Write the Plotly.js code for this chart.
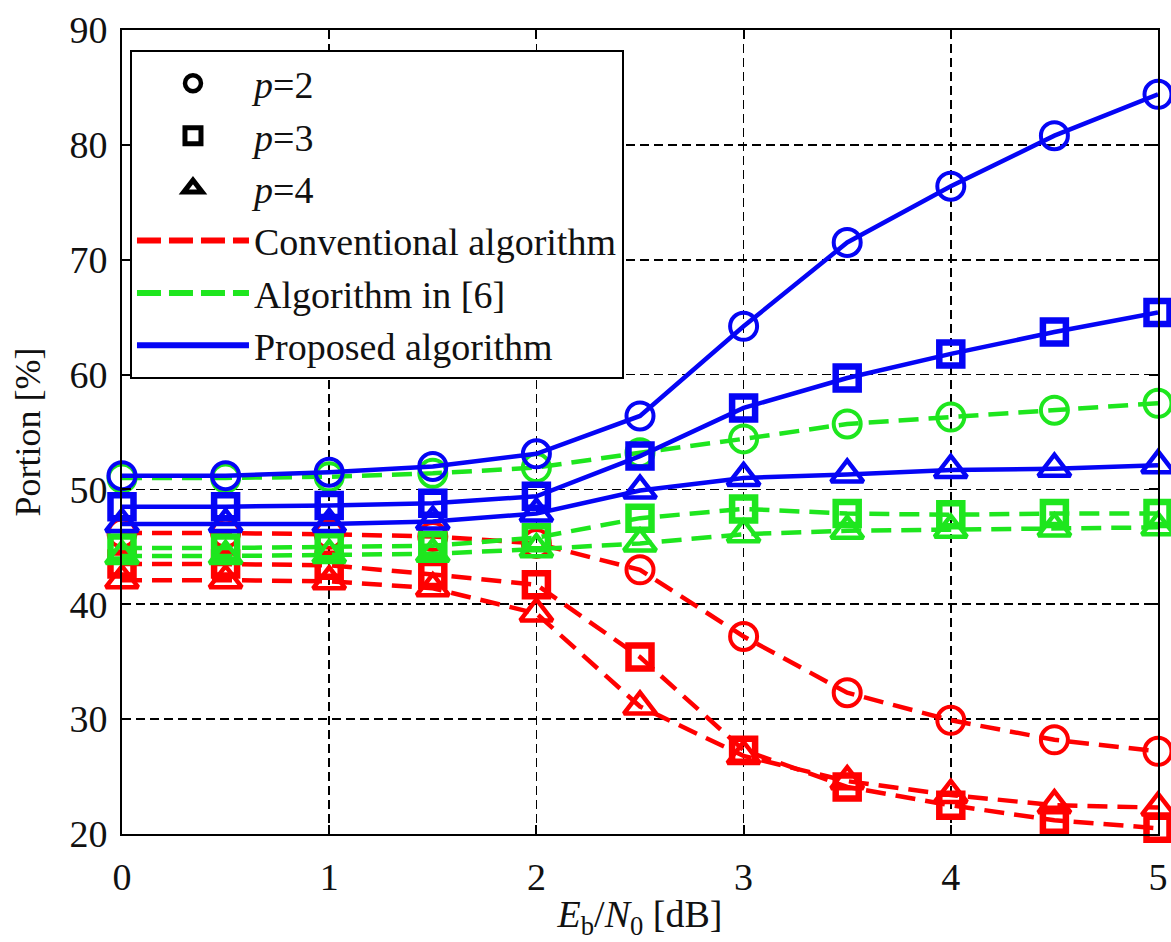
<!DOCTYPE html>
<html>
<head>
<meta charset="utf-8">
<script src="https://cdn.plot.ly/plotly-3.0.1.min.js"></script>
<style>html,body{margin:0;padding:0;background:#fff;}#chart{width:1171px;height:942px;}</style>
</head>
<body>
<div id="chart"></div>
<script>
// ---- data ----
const ebn0 = [0, 0.5, 1, 1.5, 2, 2.5, 3, 3.5, 4, 4.5, 5];

const conv_p2 = [46.2, 46.2, 46.1, 45.9, 45.3, 43.0, 37.2, 32.3, 29.9, 28.2, 27.2];
const conv_p3 = [43.5, 43.5, 43.4, 42.6, 41.7, 35.4, 27.3, 24.1, 22.5, 21.2, 20.5];
const conv_p4 = [42.1, 42.1, 42.0, 41.4, 39.2, 31.1, 26.8, 24.6, 23.4, 22.5, 22.3];

const alg6_p2 = [51.0, 51.0, 51.1, 51.4, 51.9, 53.2, 54.4, 55.7, 56.3, 56.9, 57.5];
const alg6_p3 = [44.9, 44.9, 45.0, 45.1, 45.8, 47.5, 48.3, 47.9, 47.8, 47.9, 47.9];
const alg6_p4 = [44.2, 44.2, 44.3, 44.4, 44.8, 45.3, 46.1, 46.4, 46.5, 46.6, 46.7];

const prop_p2 = [51.2, 51.2, 51.5, 52.0, 53.1, 56.4, 64.2, 71.5, 76.4, 80.8, 84.4];
const prop_p3 = [48.5, 48.5, 48.6, 48.8, 49.4, 52.9, 57.1, 59.7, 61.8, 63.7, 65.4];
const prop_p4 = [47.0, 47.0, 47.0, 47.2, 47.9, 49.9, 51.0, 51.3, 51.7, 51.8, 52.1];

const pLabels = ['<i>p</i>=2', '<i>p</i>=3', '<i>p</i>=4'];
const algLabels = ['Conventional algorithm', 'Algorithm in [6]', 'Proposed algorithm'];
const xTicks = [0, 1, 2, 3, 4, 5];
const yTicks = [20, 30, 40, 50, 60, 70, 80, 90];

// ---- styles ----
const SERIF = '"Liberation Serif", "Times New Roman", Times, serif';
const RED = '#ff0000', GREEN = '#1ee61e', BLUE = '#0505f5';
const DASH = '20px,10px';
const symbols = ['circle-open', 'square-open', 'triangle-up-open'];
const msize = [27, 23, 28];
const mline = [4, 6.5, 4.5];

function series(y, color, dash, k) {
  return {
    x: ebn0, y: y, type: 'scatter', mode: 'lines+markers',
    line: {color: color, width: 4.5, dash: dash},
    marker: {symbol: symbols[k], size: msize[k], color: color, line: {color: color, width: mline[k]}},
    showlegend: false, cliponaxis: false, hoverinfo: 'x+y'
  };
}

const traces = [
  series(conv_p2, RED, DASH, 0), series(conv_p3, RED, DASH, 1), series(conv_p4, RED, DASH, 2),
  series(alg6_p2, GREEN, DASH, 0), series(alg6_p3, GREEN, DASH, 1), series(alg6_p4, GREEN, DASH, 2),
  series(prop_p2, BLUE, 'solid', 0), series(prop_p3, BLUE, 'solid', 1), series(prop_p4, BLUE, 'solid', 2)
];

// legend-only entries
for (let k = 0; k < 3; k++) {
  traces.push({
    x: [null], y: [null], type: 'scatter', mode: 'markers', name: pLabels[k],
    marker: {symbol: symbols[k], size: msize[k] - 3, color: '#000', line: {color: '#000', width: mline[k] + 0.5}},
    showlegend: true
  });
}
[[RED, '24px,8px'], [GREEN, '24px,8px'], [BLUE, 'solid']].forEach((s, i) => {
  traces.push({
    x: [null], y: [null], type: 'scatter', mode: 'lines', name: algLabels[i],
    line: {color: s[0], width: 6, dash: s[1]}, showlegend: true
  });
});

const axisCommon = {
  showline: true, linecolor: '#000', linewidth: 2, mirror: 'ticks',
  ticks: 'inside', ticklen: 9, tickwidth: 2, tickcolor: '#000',
  showgrid: true, gridcolor: '#000', gridwidth: 1.8, griddash: '9px,5px',
  zeroline: false, tickfont: {family: SERIF, size: 38, color: '#111'}
};

const layout = {
  width: 1171, height: 942,
  margin: {l: 122, r: 13, t: 30, b: 108},
  paper_bgcolor: '#fff', plot_bgcolor: '#fff',
  font: {family: SERIF, color: '#111'},
  xaxis: Object.assign({}, axisCommon, {
    range: [0, 5], tickvals: xTicks, ticklabelstandoff: 8,
    title: {text: '<i>E</i><sub>b</sub>/<i>N</i><sub>0</sub> [dB]', font: {family: SERIF, size: 38, color: '#111'}, standoff: 4}
  }),
  yaxis: Object.assign({}, axisCommon, {
    range: [20, 90], tickvals: yTicks, ticklabelstandoff: 5,
    title: {text: 'Portion [%]', font: {family: SERIF, size: 36, color: '#111'}, standoff: 18}
  }),
  legend: {
    x: 0.0077, y: 0.975, xanchor: 'left', yanchor: 'top',
    bgcolor: '#fff', bordercolor: '#000', borderwidth: 2,
    font: {family: SERIF, size: 38, color: '#111'},
    itemwidth: 112, tracegroupgap: 0, traceorder: 'normal'
  },
  showlegend: true
};

Plotly.newPlot('chart', traces, layout, {displayModeBar: false, staticPlot: true});
</script>
</body>
</html>
